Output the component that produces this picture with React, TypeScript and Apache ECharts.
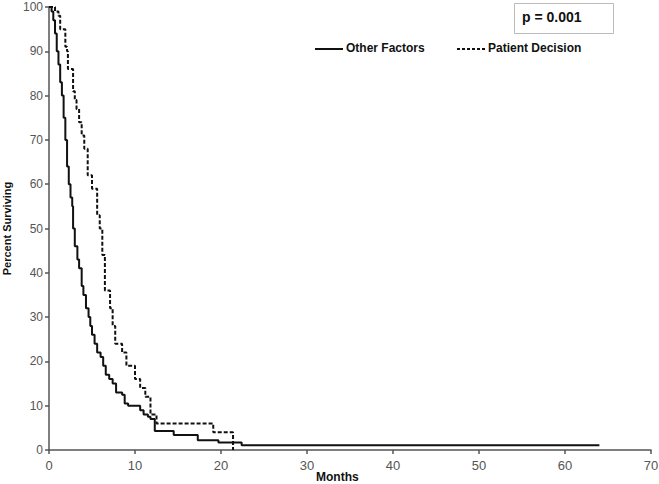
import React, { useEffect, useRef } from "react";
import * as echarts from "echarts";

const otherFactors: [number, number][] = [
  [0, 100], [0.3, 99], [0.5, 97], [0.7, 94], [0.9, 90], [1.1, 87], [1.3, 83], [1.5, 80],
  [1.7, 75], [1.9, 70], [2.1, 64], [2.3, 60], [2.5, 57], [2.7, 55], [2.8, 50], [3.0, 46],
  [3.3, 43], [3.5, 41], [3.8, 37], [4.0, 35], [4.3, 32], [4.6, 30], [4.8, 28], [5.0, 26],
  [5.3, 24], [5.6, 22], [6.0, 21], [6.3, 19], [6.6, 17], [7.0, 16], [7.4, 15], [7.8, 13],
  [8.5, 12.5], [8.8, 10.5], [9.2, 10], [10.6, 9], [11.0, 8], [11.5, 7.5], [11.8, 7],
  [12.3, 4.3], [14.5, 3.4], [17.3, 2.2], [19.7, 1.7], [22.4, 1.1], [64, 1.1],
];

const patientDecision: [number, number][] = [
  [0, 100], [0.7, 99], [1.1, 98], [1.3, 95], [1.9, 91], [2.1, 90], [2.2, 86], [2.8, 81],
  [3.0, 79], [3.2, 77], [3.5, 74], [3.8, 71], [4.1, 68], [4.5, 62], [5.0, 59], [5.6, 53],
  [5.9, 50], [6.2, 44], [6.5, 36], [7.1, 32], [7.4, 28], [7.7, 24], [8.5, 22], [9.0, 19],
  [10.0, 16], [10.6, 14], [11.2, 12], [11.8, 8], [12.5, 6], [19.1, 4], [21.4, 0],
];

const seriesNames = ["Other Factors", "Patient Decision"];
const pValueText = "p = 0.001";
const xTitle = "Months";
const yTitle = "Percent Surviving";

export default function App() {
  const ref = useRef<HTMLDivElement>(null);
  useEffect(() => {
    if (!ref.current) return;
    const chart = echarts.init(ref.current, undefined, { renderer: "svg" });
    const axisColor = "#555";
    const font = "Liberation Sans, Arial, sans-serif";
    const labelStyle = { color: "#555", fontSize: 12, fontFamily: font };
    chart.setOption({
      animation: false,
      backgroundColor: "#fff",
      grid: { left: 49, right: 8, top: 7, bottom: 34, containLabel: false, outerBoundsMode: "none" },
      xAxis: {
        type: "value",
        min: 0,
        max: 70,
        interval: 10,
        axisLine: { show: true, lineStyle: { color: axisColor, width: 1.5 } },
        axisTick: { show: true, length: 4, lineStyle: { color: axisColor, width: 1.5 } },
        axisLabel: { ...labelStyle, fontSize: 13, margin: 9 },
        splitLine: { show: false },
      },
      yAxis: {
        type: "value",
        min: 0,
        max: 100,
        interval: 10,
        axisLine: { show: true, lineStyle: { color: axisColor, width: 1.5 } },
        axisTick: { show: true, length: 4, lineStyle: { color: axisColor, width: 1.5 } },
        axisLabel: { ...labelStyle, margin: 6 },
        splitLine: { show: false },
        name: yTitle,
        nameLocation: "middle",
        nameGap: 34,
        nameRotate: 90,
        nameTextStyle: { color: "#111", fontSize: 11, fontWeight: "bold", fontFamily: font },
      },
      series: [
        {
          name: seriesNames[0],
          type: "line",
          step: "end",
          data: otherFactors,
          showSymbol: false,
          lineStyle: { color: "#111", width: 2, type: "solid" },
          z: 3,
        },
        {
          name: seriesNames[1],
          type: "line",
          step: "end",
          data: patientDecision,
          showSymbol: false,
          lineStyle: { color: "#111", width: 2, type: [4, 2] },
          z: 2,
        },
      ],
      graphic: [
        {
          type: "rect",
          left: 514,
          top: 3,
          shape: { width: 99, height: 30 },
          style: { fill: "#fff", stroke: "#bbb", lineWidth: 1 },
        },
        {
          type: "text",
          left: 522,
          top: 10,
          style: { text: pValueText, fill: "#111", font: `bold 14px ${font}` },
        },
        {
          type: "line",
          shape: { x1: 315, y1: 49, x2: 343, y2: 49 },
          style: { stroke: "#111", lineWidth: 2 },
        },
        {
          type: "text",
          left: 346,
          top: 42,
          style: { text: seriesNames[0], fill: "#111", font: `bold 12px ${font}` },
        },
        {
          type: "line",
          shape: { x1: 457, y1: 49, x2: 487, y2: 49 },
          style: { stroke: "#111", lineWidth: 2, lineDash: [3, 2] },
        },
        {
          type: "text",
          left: 488,
          top: 42,
          style: { text: seriesNames[1], fill: "#111", font: `bold 12px ${font}` },
        },
        {
          type: "text",
          left: 316,
          top: 471,
          style: { text: xTitle, fill: "#111", font: `bold 12px ${font}` },
        },
      ],
    });
    return () => chart.dispose();
  }, []);
  return (
    <div
      ref={ref}
      style={{ position: "fixed", left: 0, top: 0, width: 659, height: 484, background: "#fff" }}
    />
  );
}
